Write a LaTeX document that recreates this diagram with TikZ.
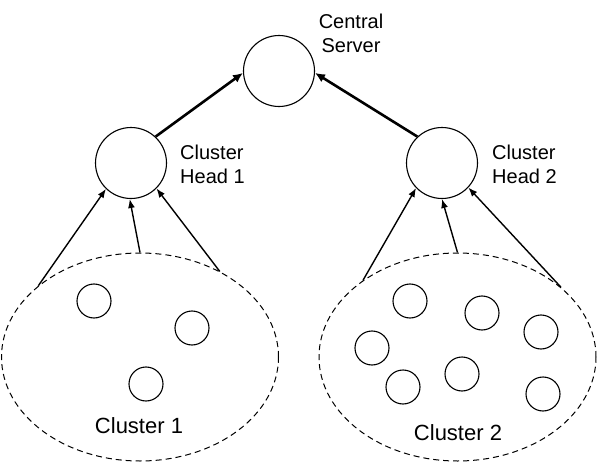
\documentclass[tikz,border=0pt]{standalone}
\usepackage{fontspec}
\setmainfont{Liberation Sans}
\usetikzlibrary{arrows.meta,shapes.geometric}
\tikzset{
	hub/.style={draw, circle, minimum size=71pt, inner sep=0pt, line width=1.1pt},
	member/.style={draw, circle, minimum size=34pt, inner sep=0pt, line width=1.1pt},
	cluster/.style={draw, ellipse, dash pattern=on 6pt off 4pt, line width=1pt, minimum width=277pt, minimum height=208pt, inner sep=0pt},
	feed/.style={line width=1.4pt, -{Latex[length=9pt, width=7pt]}},
	uplink/.style={line width=2.6pt, -{Latex[length=10pt, width=9pt]}},
	lbl/.style={inner sep=0pt, font=\fontsize{20}{24}\selectfont},
	biglbl/.style={inner sep=0pt, font=\fontsize{22}{26}\selectfont}
}

\begin{document}
\begin{tikzpicture}[x=1pt, y=-1pt]
		%%%%% START %%%%%
		\useasboundingbox (0, 0) rectangle (598, 463);
		
		\node[hub] (server) at (279, 71) {};
		\node[lbl, align=center] (serverlbl) at (351, 33) {Central\\Server};
		
		\node[hub] (head1) at (131, 163) {};
		\node[lbl, align=left, anchor=west] (head1lbl) at (180, 164) {Cluster\\Head 1};
		\node[hub] (head2) at (442, 163) {};
		\node[lbl, align=left, anchor=west] (head2lbl) at (492, 164) {Cluster\\Head 2};
		
		\draw[uplink] (head1.47) -- (server.183);
		\draw[uplink] (head2.133) -- (server.357);
		
		% cluster 1
		\node[cluster] (cl1) at (140, 357) {};
		\node[member] (a1) at (94, 301) {};
		\node[member] (a2) at (192, 328) {};
		\node[member] (a3) at (146, 384) {};
		\node[biglbl] (cl1lbl) at (139, 426) {Cluster 1};
		
		\draw[feed] (cl1.145) -- (head1.226);
		\draw[feed] (cl1.north) -- (head1.268);
		\draw[feed] (cl1.47) -- (head1.315);
		
		% cluster 2
		\node[cluster] (cl2) at (457.5, 357) {};
		\node[member] (b1) at (410, 301) {};
		\node[member] (b2) at (482, 313) {};
		\node[member] (b3) at (541, 332) {};
		\node[member] (b4) at (372, 348) {};
		\node[member] (b5) at (462, 374) {};
		\node[member] (b6) at (403, 387) {};
		\node[member] (b7) at (543, 394) {};
		\node[biglbl] (cl2lbl) at (458, 433) {Cluster 2};
		
		\draw[feed] (cl2.141) -- (head2.224);
		\draw[feed] (cl2.north) -- (head2.270);
		\draw[feed] (cl2.34) -- (head2.317);
		
		%%%%% END %%%%%
	\end{tikzpicture}
\end{document}
